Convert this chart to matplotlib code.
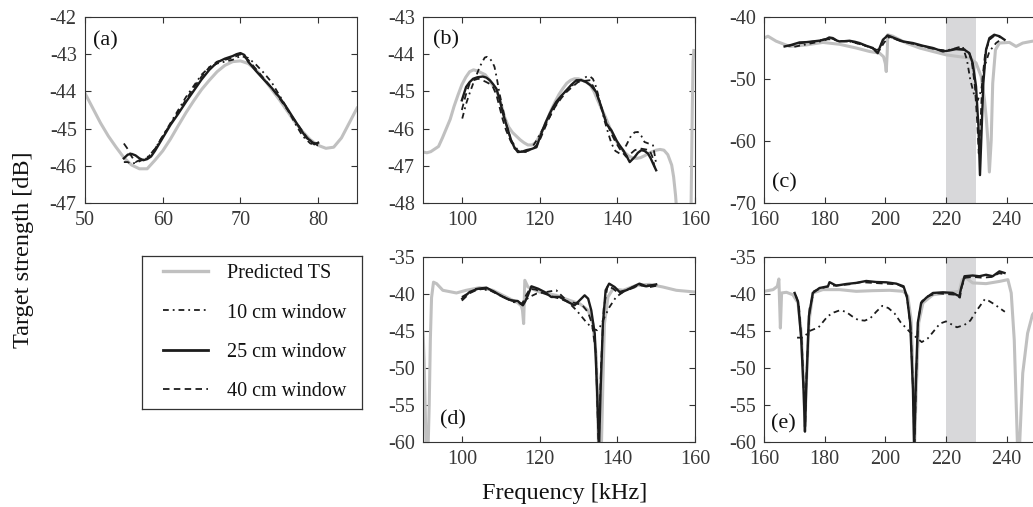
import matplotlib
matplotlib.use("Agg")
import matplotlib.pyplot as plt
from matplotlib.lines import Line2D

plt.rcParams['font.family'] = ['Liberation Serif', 'DejaVu Serif']
plt.rcParams['axes.unicode_minus'] = False

# ---------------- data ----------------
# panel (a)
a_pred_f = [50,51,52,53,54,55,56,57,58,59,60,61,62,63,64,65,66,67,68,69,70,71,72,73,74,75,76,77,78,79,80,81,82,83,84,85]
a_pred_ts = [-44.05,-44.45,-44.85,-45.2,-45.5,-45.78,-45.98,-46.08,-46.08,-45.85,-45.6,-45.28,-44.92,-44.57,-44.25,-43.95,-43.7,-43.47,-43.3,-43.2,-43.18,-43.25,-43.42,-43.66,-43.94,-44.22,-44.52,-44.82,-45.08,-45.3,-45.45,-45.53,-45.5,-45.25,-44.85,-44.45]
a_f10 = [55,55.5,56,57,58,59,60,61,62,63,64,65,66,67,68,69,70,71,72,73,74,75,76,77,78,79,80]
a_ts10 = [-45.9,-45.9,-45.95,-45.88,-45.78,-45.55,-45.2,-44.85,-44.5,-44.15,-43.85,-43.55,-43.35,-43.25,-43.2,-43.15,-43.05,-43.1,-43.28,-43.5,-43.75,-44.1,-44.45,-44.85,-45.2,-45.4,-45.45]
a_f25 = [55,55.5,56,56.5,57,57.5,58,58.5,59,60,61,62,63,64,65,66,67,68,69,69.5,70,70.5,71,72,73,74,75,76,77,78,78.5,79,79.5,80]
a_ts25 = [-45.8,-45.7,-45.68,-45.72,-45.8,-45.85,-45.82,-45.75,-45.6,-45.25,-44.9,-44.6,-44.28,-43.98,-43.68,-43.42,-43.22,-43.12,-43.05,-43.0,-42.97,-43.02,-43.2,-43.45,-43.68,-43.9,-44.15,-44.45,-44.78,-45.1,-45.25,-45.32,-45.42,-45.38]
a_f40 = [55,55.5,56,56.5,57,58,59,60,61,62,63,64,65,66,67,68,69,70,71,72,73,74,75,76,77,78,79,80]
a_ts40 = [-45.4,-45.55,-45.75,-45.9,-45.85,-45.8,-45.55,-45.2,-44.88,-44.55,-44.22,-43.9,-43.6,-43.35,-43.2,-43.15,-43.1,-43.0,-43.15,-43.4,-43.65,-43.9,-44.18,-44.48,-44.78,-45.08,-45.35,-45.42]

# panel (b)
b_pred_f = [90,91,92,93,94,95,96,97,98,99,100,101,102,103,104,105,106,107,108,109,110,111,112,113,114,115,116,117,118,119,120,121,122,123,124,125,126,127,128,129,130,131,132,133,134,135,136,137,138,139,140,141,142,143,144,145,146,147,148,149,150,151,152,153,154,154.5,155,155.5,156,157,158,158.5,159,159.3,159.5,159.7]
b_pred_ts = [-46.63,-46.65,-46.62,-46.55,-46.48,-46.25,-46.0,-45.75,-45.4,-45.1,-44.82,-44.62,-44.47,-44.42,-44.45,-44.5,-44.55,-44.68,-44.85,-45.0,-45.3,-45.69,-45.95,-46.1,-46.2,-46.3,-46.38,-46.44,-46.44,-46.38,-46.2,-46.0,-45.75,-45.5,-45.28,-45.08,-44.92,-44.78,-44.7,-44.66,-44.66,-44.7,-44.75,-44.82,-45.0,-45.25,-45.48,-45.7,-45.96,-46.18,-46.38,-46.53,-46.65,-46.74,-46.79,-46.8,-46.78,-46.73,-46.67,-46.62,-46.58,-46.56,-46.58,-46.7,-46.98,-47.3,-47.8,-48.5,-49.5,-52.0,-54.0,-52.0,-48.0,-45.5,-44.2,-43.9]
b_f10 = [100.1,101.1,102,102.9,104,104.6,105.3,105.9,106.5,107.2,107.8,108.4,109,109.7,110.5,111.4,112.7,114.4,115.5,116.6,117.8,119.2,120.9,122.6,124.3,126,127.7,129.5,130.8,132,133,133.7,134.3,135,135.8,136.7,137.6,138.5,139.5,140.6,141.5,142.3,143.6,144.5,145.3,146.2,147,148,149.2,150]
b_ts10 = [-45.73,-45.33,-45.05,-44.79,-44.5,-44.34,-44.2,-44.09,-44.07,-44.12,-44.2,-44.34,-44.65,-45.06,-45.45,-45.87,-46.32,-46.58,-46.62,-46.63,-46.55,-46.32,-46.0,-45.69,-45.35,-45.06,-44.9,-44.75,-44.68,-44.61,-44.6,-44.66,-44.8,-45.06,-45.4,-45.78,-46.1,-46.4,-46.6,-46.67,-46.6,-46.45,-46.18,-46.1,-46.09,-46.2,-46.36,-46.4,-46.45,-46.94]
b_f25 = [100,101.1,102,102.9,104,105.4,106.3,107.2,108,108.9,109.8,110.6,111.6,112.7,113.5,114.4,115.5,116.6,117.9,119.2,120.4,121.5,122.6,123.5,124.3,125.6,126.9,128.2,129.5,130.8,132,133.3,134.6,135.9,137.2,138.5,139.8,140.6,141.5,142.3,143.2,144.5,145.3,146.2,147,147.9,148.6,149.2,150]
b_ts25 = [-45.24,-44.88,-44.75,-44.66,-44.62,-44.6,-44.63,-44.7,-44.8,-44.93,-45.25,-45.6,-45.95,-46.32,-46.5,-46.63,-46.62,-46.58,-46.55,-46.5,-46.14,-45.85,-45.6,-45.42,-45.28,-45.12,-44.97,-44.82,-44.7,-44.7,-44.75,-44.85,-45.02,-45.42,-45.87,-46.05,-46.32,-46.45,-46.58,-46.72,-46.9,-46.76,-46.65,-46.58,-46.6,-46.67,-46.8,-46.94,-47.12]
b_f40 = [100,101,102,103,104.2,105.3,106.3,107.2,108,108.9,109.7,110.5,111.4,112.5,113.6,114.6,115.7,117,118.3,119.2,120,121.1,122.2,123.2,124.3,125.6,126.9,128.4,129.9,131.4,132.9,134,135,135.8,136.7,137.6,138.5,139.5,140.6,141.5,142.3,143.4,144.5,145.4,146.2,147.3,148.3,149,149.6]
b_ts40 = [-45.5,-45.1,-44.79,-44.7,-44.66,-44.7,-44.75,-44.8,-44.88,-45.1,-45.42,-45.75,-46.05,-46.32,-46.54,-46.6,-46.63,-46.6,-46.54,-46.45,-46.32,-46.05,-45.78,-45.55,-45.37,-45.18,-45.02,-44.88,-44.75,-44.72,-44.7,-44.9,-45.15,-45.4,-45.69,-45.92,-46.14,-46.35,-46.54,-46.66,-46.76,-46.68,-46.58,-46.55,-46.54,-46.56,-46.58,-46.75,-47.03]

# panel (c)
c_pred_f = [160,161.3,164,168.5,174,179.4,184.9,190.4,194.8,198.1,199.4,200,200.3,200.6,200.8,202.5,206.9,211.3,215.7,220,224.4,227.7,229.9,231.6,232.7,233.3,233.8,234.3,234.9,235.4,236.3,237.6,240.9,243.1,245.3,248.5,250]
c_pred_ts = [-43.4,-43.1,-43.9,-44.75,-44.5,-44.1,-44.4,-45.0,-45.56,-45.83,-46.4,-47.5,-48.8,-46.0,-42.86,-43.1,-44.2,-45.0,-45.56,-46.1,-46.4,-46.6,-47.4,-49.6,-53.4,-56.5,-59.9,-65.0,-59.9,-50.7,-45.3,-44.2,-44.1,-44.75,-44.2,-43.9,-43.9]
c_f10 = [170,172,175,178,181,183,185,188,191,194,196,198,199.5,201,203,206,209,212,215,218,220,222,224,225.5,226.9,228,229.4,230.5,231.6,232.7,234.3,236.5,238.7]
c_ts10 = [-44.8,-44.6,-44.3,-44.0,-43.6,-43.6,-43.9,-43.9,-44.3,-44.7,-45.1,-45.4,-44.2,-43.3,-43.5,-44.0,-44.3,-44.6,-45.0,-45.3,-45.4,-45.2,-44.9,-44.75,-46.9,-50.1,-52.8,-53.4,-51.8,-48.0,-45.56,-44.2,-43.4]
c_f25 = [166.8,169,171.7,174,176.1,178.5,180.5,181.5,182.7,184,184.9,186.5,188.2,190,191.5,193.7,195.9,196.8,197.5,198.1,199.2,200.8,203,205.8,209.1,212.4,215.7,219,221.1,223.3,226.1,227.7,228.8,229.9,230.7,231.2,231.7,232.3,233.2,234.3,235.9,237.6,239.3]
c_ts25 = [-44.75,-44.5,-44.1,-44.05,-43.94,-43.8,-43.56,-43.3,-43.4,-43.8,-43.94,-43.9,-43.83,-44.0,-44.2,-44.64,-45.0,-45.5,-45.83,-45.0,-43.67,-42.97,-43.4,-43.94,-44.2,-44.64,-45.0,-45.56,-45.4,-45.18,-45.29,-45.83,-47.45,-51.2,-57.7,-65.5,-58.8,-50.7,-45.3,-43.4,-42.86,-43.1,-43.67]
c_f40 = [168,171,174,177,180,182,184,186,189,192,195,197,198,199,200.5,202,205,209,213,217,220,223,226,227.5,228.5,229.5,230.3,230.8,231.4,232,233,234.5,236,238]
c_ts40 = [-44.7,-44.3,-44.1,-43.9,-43.6,-43.4,-43.8,-43.9,-44.0,-44.4,-44.9,-45.3,-45.2,-44.0,-43.0,-43.3,-43.9,-44.3,-44.8,-45.3,-45.5,-45.1,-45.2,-45.6,-47.2,-51.0,-57.0,-62.0,-57.0,-50.0,-45.5,-43.6,-43.0,-43.3]

# panel (d)
d_pred_f = [90,90.3,90.6,90.8,91.3,91.6,91.9,92.2,92.7,93.5,95.1,98.6,101.1,104.6,108,111.4,114.4,115.3,115.6,115.9,116.2,117,120,124.3,127.7,130.3,132.5,133.7,134.6,135.2,135.9,136.3,136.7,137.6,138.9,141.5,144.9,148.3,151.7,155.2,160]
d_pred_ts = [-45.1,-49.0,-56.0,-61.0,-61.0,-55.0,-46.0,-40.5,-38.4,-38.6,-39.5,-39.86,-39.5,-39.14,-39.5,-40.4,-41.2,-41.6,-42.2,-44.0,-38.15,-39.05,-39.73,-40.18,-40.86,-41.3,-42.2,-44.0,-48.5,-61.0,-61.0,-52.0,-44.0,-40.4,-39.3,-39.5,-38.83,-38.7,-39.05,-39.5,-39.73]
d_f10 = [100,103.7,107.2,110.6,113.2,115.3,117.4,119.2,121.7,124.3,126.9,129.5,132,133.7,134.8,135.5,136.3,138,139.7,141.5,144,146.6,150]
d_ts10 = [-40.4,-39.28,-39.5,-40.4,-41.08,-41.3,-40.4,-39.95,-39.73,-39.5,-40.86,-42.2,-43.8,-44.7,-44.9,-44.5,-43.56,-41.76,-40.4,-39.73,-39.05,-38.83,-38.83]
d_f25 = [100.1,102,104.2,106.3,108.4,110.6,112.7,114.4,115.7,116.3,117,117.9,119.6,121.3,123,125.2,127.3,129,130.3,131.6,132.5,133.3,134.2,134.8,135.3,135.7,136.3,137,137.9,139.3,140.6,142.3,144,145.7,147.5,150]
d_ts25 = [-40.63,-39.73,-39.28,-39.14,-39.73,-40.4,-40.86,-40.95,-41.53,-41.0,-40.18,-38.96,-39.28,-39.73,-40.4,-40.4,-41.08,-41.53,-40.86,-40.18,-40.63,-42.2,-45.36,-53.0,-61.0,-53.0,-44.0,-39.5,-38.6,-39.05,-39.73,-39.5,-39.05,-38.6,-38.96,-38.7]
d_f40 = [100,102,104,106,108,110,112,114,115.5,116.5,117.5,119,121,123,125,127,129,131,132.5,133.5,134.5,135.2,135.8,136.5,137.5,139,140.5,142,144,146,148,150]
d_ts40 = [-40.9,-39.9,-39.4,-39.3,-39.6,-40.2,-40.7,-41.1,-41.4,-40.2,-39.3,-39.4,-39.9,-40.3,-40.6,-41.0,-41.2,-41.5,-42.5,-44.0,-48.0,-61.0,-50.0,-42.0,-38.9,-39.3,-40.0,-39.6,-39.2,-38.8,-39.1,-38.9]

# panel (e)
e_pred_f = [160,163,164.4,164.9,165.4,165.8,167.4,169.5,171.2,172.3,173.1,173.5,173.9,174.8,176.1,179.4,184.9,190.4,195.9,201.4,206,207.4,208.5,209.3,209.6,210.2,211,212.4,215.7,220,224.4,225.3,226.6,228.8,233.2,237.6,240.4,241.5,242.5,243.6,244.2,245.3,246.9,248.5,250]
e_pred_ts = [-39.64,-39.41,-38.96,-37.97,-44.6,-39.86,-39.77,-40.1,-41.2,-45.27,-52.9,-57.9,-52.9,-43.9,-39.86,-39.41,-39.41,-39.64,-39.55,-39.5,-39.64,-40.3,-43.47,-52.9,-61.0,-52.9,-43.9,-41.2,-40.1,-39.86,-39.64,-38.06,-37.84,-38.5,-38.6,-38.3,-38.06,-39.86,-46.2,-61.0,-61.0,-50.7,-45.3,-42.8,-42.0]
e_f10 = [170.9,173,175,178,181,183,185,187,189,191,193.2,195,197,199,201,203,205,208,210,212,214,216,218,220,223.6,226,228,230,232.8,234,236,238,239.4]
e_ts10 = [-45.9,-45.9,-45.0,-44.5,-43.0,-42.5,-42.2,-42.4,-43.0,-43.5,-43.6,-43.3,-42.4,-41.6,-41.9,-42.6,-43.8,-45.1,-45.8,-46.5,-46.0,-45.0,-44.0,-43.7,-44.5,-44.2,-43.6,-42.3,-40.7,-40.9,-41.4,-42.0,-42.4]
e_f25 = [170.1,171.2,172.3,173.1,173.5,173.9,174.8,176.1,178.3,181.1,181.6,183.8,187.1,190.4,193.7,197,200.3,203.6,206,207.1,208.2,209.1,209.5,210,210.7,211.8,213.5,215.7,219,222.2,224.4,225,226.1,228.8,231,233.2,235.4,237.6,239.3]
e_ts25 = [-39.86,-41.0,-46.2,-53.4,-58.6,-52.9,-43.0,-39.86,-39.19,-38.96,-38.4,-38.87,-38.65,-38.5,-38.24,-38.38,-38.42,-38.6,-38.96,-40.3,-43.9,-52.9,-61.0,-52.9,-43.9,-41.2,-40.5,-39.86,-39.77,-39.86,-40.3,-39.2,-37.6,-37.5,-37.6,-37.4,-37.6,-36.94,-37.16]
e_f40 = [170.5,171.5,172.5,173.2,173.6,174,175,176.5,179,182,185,188,192,196,200,204,206,207.2,208.3,209.2,209.6,210.1,210.8,212,214,217,220,223,224.6,225.2,226.3,229,232,235,237.5,239]
e_ts40 = [-40.2,-41.5,-47.0,-54.0,-57.5,-51.0,-42.0,-39.6,-39.2,-38.9,-38.8,-38.7,-38.4,-38.5,-38.6,-38.7,-39.1,-40.6,-44.5,-53.5,-61.0,-52.0,-43.5,-41.0,-40.3,-39.9,-40.0,-40.1,-40.5,-39.0,-37.8,-37.7,-37.8,-37.7,-37.2,-37.3]

legend_labels = ['Predicted TS', '10 cm window', '25 cm window', '40 cm window']

# ---------------- styles ----------------
GREY = '#c0c0c0'
BLACK = '#1c1c1c'
SHADE = '#d8d8da'
SPINE = '#333333'
TICKTXT = '#383838'
DASHDOT = (0, (3.2, 2.2, 1.0, 2.2))
DASHED = (0, (3.6, 2.4))

W, H = 1033, 507
fig = plt.figure(figsize=(W / 100, H / 100), dpi=100)


def add_ax(x0, x1, ytop, ybot):
    return fig.add_axes([x0 / W, 1 - ybot / H, (x1 - x0) / W, (ybot - ytop) / H])


def style(ax, xlim, ylim, xticks, yticks, right=True):
    ax.set_xlim(*xlim)
    ax.set_ylim(*ylim)
    ax.set_xticks(xticks)
    ax.set_yticks(yticks)
    ax.tick_params(direction='in', length=4, width=0.8, colors=SPINE,
                   labelsize=14.5, top=True, right=right, pad=6,
                   labelcolor=TICKTXT)
    for s in ax.spines.values():
        s.set_color(SPINE)
        s.set_linewidth(0.8)
    if not right:
        ax.spines['right'].set_visible(False)


def draw(ax, pf, pts, f10, t10, f25, t25, f40, t40):
    ax.plot(pf, pts, color=GREY, lw=2.2, solid_joinstyle='round', zorder=2)
    ax.plot(f40, t40, color=BLACK, lw=1.3, ls=DASHED, zorder=3)
    ax.plot(f10, t10, color=BLACK, lw=1.3, ls=DASHDOT, zorder=3)
    ax.plot(f25, t25, color=BLACK, lw=1.7, zorder=4)


def label(ax, txt, x, y):
    ax.text(x, y, txt, transform=ax.transAxes, fontsize=16, ha='left',
            va='center', color='#111111')


ax_a = add_ax(85, 357, 17, 203)
draw(ax_a, a_pred_f, a_pred_ts, a_f10, a_ts10, a_f25, a_ts25, a_f40, a_ts40)
style(ax_a, (50, 85), (-47, -42), [50, 60, 70, 80], range(-47, -41))
label(ax_a, '(a)', 0.028, 0.87)

ax_b = add_ax(423, 695, 17, 203)
draw(ax_b, b_pred_f, b_pred_ts, b_f10, b_ts10, b_f25, b_ts25, b_f40, b_ts40)
style(ax_b, (90, 160), (-48, -43), [100, 120, 140, 160], range(-48, -42))
label(ax_b, '(b)', 0.035, 0.875)

xr = 160 + (1033 - 764) / 273 * 90
ax_c = add_ax(764, 1033, 17, 203)
ax_c.axvspan(220, 230, color=SHADE, lw=0, zorder=1)
draw(ax_c, c_pred_f, c_pred_ts, c_f10, c_ts10, c_f25, c_ts25, c_f40, c_ts40)
style(ax_c, (160, xr), (-70, -40), [160, 180, 200, 220, 240], [-70, -60, -50, -40], right=False)
label(ax_c, '(c)', 0.028, 0.11)

ax_d = add_ax(423, 695, 257, 442)
draw(ax_d, d_pred_f, d_pred_ts, d_f10, d_ts10, d_f25, d_ts25, d_f40, d_ts40)
style(ax_d, (90, 160), (-60, -35), [100, 120, 140, 160], range(-60, -34, 5))
label(ax_d, '(d)', 0.063, 0.12)

ax_e = add_ax(764, 1033, 257, 442)
ax_e.axvspan(220, 230, color=SHADE, lw=0, zorder=1)
draw(ax_e, e_pred_f, e_pred_ts, e_f10, e_ts10, e_f25, e_ts25, e_f40, e_ts40)
style(ax_e, (160, xr), (-60, -35), [160, 180, 200, 220, 240], range(-60, -34, 5), right=False)
label(ax_e, '(e)', 0.025, 0.10)

fig.text(565 / W, 1 - 493 / H, 'Frequency [kHz]', ha='center', va='center', fontsize=17.5, color='#111111')
fig.text(24 / W, 1 - 250 / H, 'Target strength [dB]', ha='center', va='center', rotation=90,
         fontsize=17.5, color='#111111')

# legend drawn inside a frame-only axes that forms the box
ax_leg = add_ax(142, 362, 256, 409)
ax_leg.set_xticks([])
ax_leg.set_yticks([])
ax_leg.patch.set_alpha(0)
for s in ax_leg.spines.values():
    s.set_color(SPINE)
    s.set_linewidth(0.9)
handles = [Line2D([], [], color=GREY, lw=2.4),
           Line2D([], [], color=BLACK, lw=1.3, ls=DASHDOT),
           Line2D([], [], color=BLACK, lw=2.0),
           Line2D([], [], color=BLACK, lw=1.3, ls=DASHED)]
leg = ax_leg.legend(handles, legend_labels, loc='center left',
                    bbox_to_anchor=(21 / 220, 0.5), borderaxespad=0, borderpad=0,
                    fontsize=14.5, frameon=False, handlelength=2.24,
                    handletextpad=0.95, labelspacing=0.99)
for t in leg.get_texts():
    t.set_color('#111111')

fig.savefig('out.png', dpi=100)
